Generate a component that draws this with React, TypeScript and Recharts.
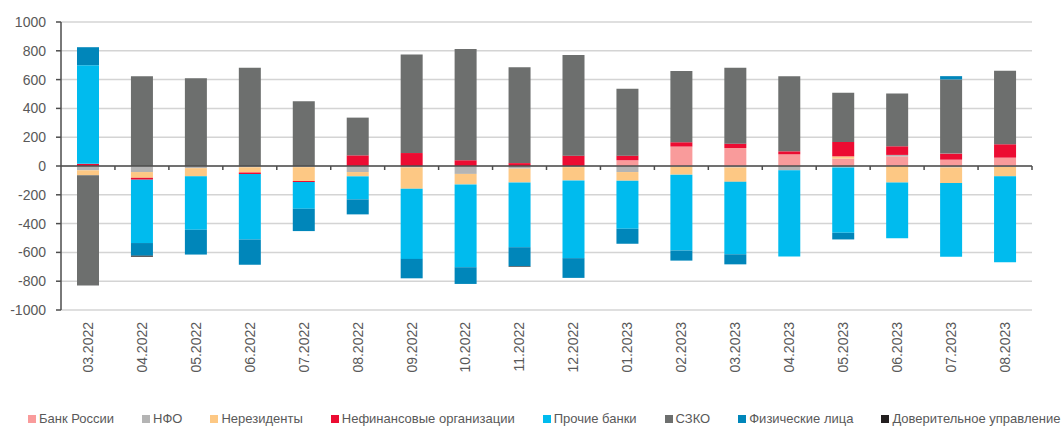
import React from 'react';
import { Bar, BarChart, CartesianGrid, Legend, ReferenceLine, XAxis, YAxis } from 'recharts';

const months = [
  '03.2022', '04.2022', '05.2022', '06.2022', '07.2022', '08.2022', '09.2022', '10.2022', '11.2022',
  '12.2022', '01.2023', '02.2023', '03.2023', '04.2023', '05.2023', '06.2023', '07.2023', '08.2023',
];

const bankRussia = [0, 0, 0, 0, 0, 0, 0, 0, 0, 0, 40, 135, 125, 81, 51, 67, 44, 58];
const nfo = [-30, -42, -15, -8, -8, -42, -10, -55, -18, -8, -42, -5, -10, -30, -10, 10, -10, -7];
const nonResidents = [-35, -40, -57, -38, -96, -30, -148, -73, -96, -92, -60, -55, -100, 0, 16, -115, -108, -65];
const nonFinancial = [15, -13, 0, -10, -7, 74, 90, 40, 20, 72, 32, 30, 30, 21, 100, 60, 42, 93];
const otherBanks = [685, -440, -371, -455, -186, -160, -487, -575, -450, -540, -334, -527, -503, -598, -454, -387, -513, -596];
const szko = [-765, 624, 610, 682, 450, 262, 684, 772, 666, 698, 464, 494, 527, 522, 341, 367, 515, 510];
const individuals = [125, -88, -172, -174, -155, -104, -135, -116, -132, -137, -104, -70, -70, 0, -46, 0, 23, 0];
const trust = [0, -7, 0, 0, 0, 0, 0, 0, -4, 0, 0, 0, 0, 0, 0, 0, 0, 0];

const yTicks = [-1000, -800, -600, -400, -200, 0, 200, 400, 600, 800, 1000];

const series = [
  { key: 'bank', name: 'Банк России', color: '#f99b9b', values: bankRussia },
  { key: 'nfo', name: 'НФО', color: '#b4b4b4', values: nfo },
  { key: 'nonres', name: 'Нерезиденты', color: '#fdc884', values: nonResidents },
  { key: 'nonfin', name: 'Нефинансовые организации', color: '#ec0c32', values: nonFinancial },
  { key: 'banks', name: 'Прочие банки', color: '#00bbee', values: otherBanks },
  { key: 'szko', name: 'СЗКО', color: '#6d6f6e', values: szko },
  { key: 'people', name: 'Физические лица', color: '#0086ba', values: individuals },
  { key: 'trust', name: 'Доверительное управление', color: '#231f20', values: trust },
];

const data = months.map((month, i) => {
  const row: Record<string, string | number> = { month };
  series.forEach(s => { row[s.key] = s.values[i]; });
  return row;
});

const FONT = "'Liberation Sans', Arial, sans-serif";

const MonthTick = (props: any) => {
  const { x, y, payload } = props;
  return (
    <g transform={`translate(${x},${y})`}>
      <text transform="rotate(-90)" x={-12} y={0} dy="0.35em" textAnchor="end"
        fill="#595959" fontSize={14} fontFamily={FONT}>
        {payload.value}
      </text>
    </g>
  );
};

// zero line with small category ticks hanging below it
const ZeroLine = (props: any) => {
  const { x1, x2, y1 } = props;
  const step = (x2 - x1) / months.length;
  return (
    <g>
      <line x1={x1} x2={x2} y1={y1} y2={y1} stroke="#4d4d4d" strokeWidth={1.5} />
      {months.map((m, i) => (
        <line key={m} x1={x1 + step * (i + 1)} x2={x1 + step * (i + 1)} y1={y1} y2={y1 + 4}
          stroke="#4d4d4d" strokeWidth={1.5} />
      ))}
    </g>
  );
};

const LegendContent = () => (
  <div style={{ height: 36, paddingLeft: 28, paddingTop: 21, boxSizing: 'border-box', display: 'flex',
    gap: 28, whiteSpace: 'nowrap', fontFamily: FONT, fontSize: 13, lineHeight: '16px', color: '#595959' }}>
    {series.map(s => (
      <span key={s.key} style={{ display: 'flex', alignItems: 'center' }}>
        <span style={{ width: 8, height: 8, background: s.color, marginRight: 3, display: 'inline-block' }} />
        {s.name}
      </span>
    ))}
  </div>
);

export default function App() {
  return (
    <div style={{ position: 'absolute', left: 0, top: 0, width: 1063, height: 426, overflow: 'hidden', background: '#fff' }}>
      <BarChart width={1063} height={426} data={data} stackOffset="sign" barSize={22}
        margin={{ top: 22, right: 31, left: 0, bottom: 0 }}>
        <CartesianGrid vertical={false} stroke="#d4d4d4" strokeWidth={1.5} />
        <XAxis dataKey="month" interval={0} axisLine={false} tickLine={false} tickSize={0} tickMargin={0}
          height={80} tick={<MonthTick />} />
        <YAxis domain={[-1000, 1000]} ticks={yTicks} width={61} interval={0}
          axisLine={{ stroke: '#4d4d4d', strokeWidth: 1.5 }} tickLine={{ stroke: '#4d4d4d', strokeWidth: 1.5 }}
          tickSize={5} tickMargin={10} tick={{ fill: '#595959', fontSize: 14, fontFamily: FONT }} />
        {series.map(s => (
          <Bar key={s.key} dataKey={s.key} name={s.name} stackId="a" fill={s.color} isAnimationActive={false} />
        ))}
        <ReferenceLine y={0} shape={<ZeroLine />} />
        <Legend verticalAlign="bottom" align="left" content={<LegendContent />}
          wrapperStyle={{ left: 0, bottom: 0, width: 1063, height: 36 }} />
      </BarChart>
    </div>
  );
}
